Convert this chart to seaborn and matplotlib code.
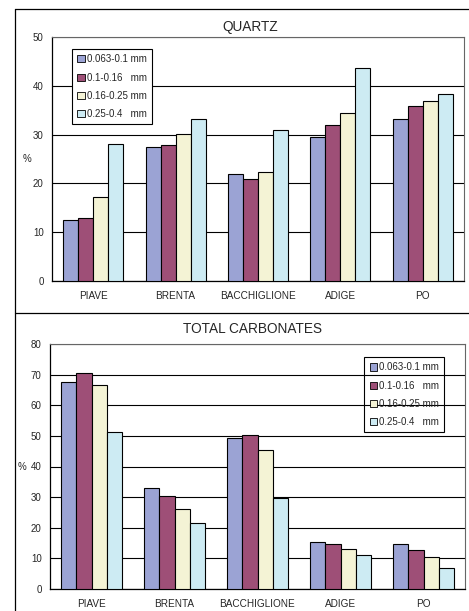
import pandas as pd
import matplotlib.pyplot as plt
import seaborn as sns
from matplotlib.lines import Line2D

# Data
rivers = ["PIAVE", "BRENTA", "BACCHIGLIONE", "ADIGE", "PO"]
sizes = ["0.063-0.1 mm", "0.1-0.16   mm", "0.16-0.25 mm", "0.25-0.4   mm"]

quartz_0063 = [12.6, 27.4, 21.9, 29.5, 33.1]
quartz_01 = [13.0, 27.8, 20.9, 32.0, 35.9]
quartz_016 = [17.3, 30.2, 22.4, 34.4, 36.8]
quartz_025 = [28.1, 33.2, 30.9, 43.6, 38.4]

carb_0063 = [67.6, 33.0, 49.3, 15.3, 14.8]
carb_01 = [70.6, 30.5, 50.4, 14.6, 12.8]
carb_016 = [66.6, 26.2, 45.5, 13.2, 10.6]
carb_025 = [51.3, 21.4, 29.7, 11.2, 7.0]

colors = ["#9BA3D4", "#9E4F77", "#F4F3D5", "#CDEBF3"]

sns.set_style("white")
plt.rcParams['font.family'] = ['Liberation Sans', 'DejaVu Sans']


def long_table(series):
    rows = []
    for size, vals in zip(sizes, series):
        for river, v in zip(rivers, vals):
            rows.append({"river": river, "size": size, "value": v})
    return pd.DataFrame(rows)


def draw_panel(ax, df, ymax, step, leg_anchor, leg_face, ylabel_x):
    sns.barplot(data=df, x="river", y="value", hue="size", palette=colors,
                saturation=1, width=0.73, edgecolor="black", linewidth=0.8,
                ax=ax, errorbar=None, zorder=3)
    ax.set_xlim(-0.5, 4.5)
    ax.set_ylim(0, ymax)
    ax.set_yticks(range(0, ymax + 1, step))
    ax.grid(axis="y", color="black", linewidth=0.8, zorder=0)
    ax.set_axisbelow(True)
    ax.set_xlabel("")
    ax.set_ylabel("%", rotation=0, fontsize=7, va="center", ha="center")
    ax.yaxis.set_label_coords(ylabel_x, 0.5)
    # category boundary ticks like the spreadsheet chart
    ax.set_xticks([-0.5, 0.5, 1.5, 2.5, 3.5, 4.5], minor=True)
    ax.tick_params(axis="x", which="major", length=0, labelsize=7.2, pad=7)
    ax.tick_params(axis="x", which="minor", length=3, direction="out", width=0.8)
    ax.tick_params(axis="y", length=3, direction="out", width=0.8, labelsize=7, pad=3)
    for side in ["left", "bottom"]:
        ax.spines[side].set_color("black")
        ax.spines[side].set_linewidth(0.9)
    for side in ["top", "right"]:
        ax.spines[side].set_color("#666666")
        ax.spines[side].set_linewidth(0.8)
    leg = ax.legend(loc="upper left", bbox_to_anchor=leg_anchor, borderaxespad=0,
                    fontsize=7, fancybox=False, edgecolor="black",
                    facecolor=leg_face, framealpha=1,
                    handlelength=0.75, handleheight=0.75,
                    handletextpad=0.2, labelspacing=0.85, borderpad=0.55)
    leg.get_frame().set_linewidth(0.8)
    leg.set_zorder(5)
    for h in leg.legend_handles:
        h.set_edgecolor("black")
        h.set_linewidth(0.6)


fig = plt.figure(figsize=(4.69, 6.11), dpi=100)

ax1 = fig.add_axes([52 / 469, 1 - 281 / 611, 412 / 469, 244 / 611])
draw_panel(ax1, long_table([quartz_0063, quartz_01, quartz_016, quartz_025]),
           50, 10, (0.0485, 0.951), "white", -0.06)

ax2 = fig.add_axes([50 / 469, 1 - 589 / 611, 415 / 469, 245 / 611])
draw_panel(ax2, long_table([carb_0063, carb_01, carb_016, carb_025]),
           80, 10, (0.757, 0.947), "none", -0.068)

fig.text(250 / 469, 1 - 27 / 611, "QUARTZ", ha="center", va="center", fontsize=9.8)
fig.text(252 / 469, 1 - 329 / 611, "TOTAL CARBONATES", ha="center", va="center", fontsize=9.8)

# outer frame lines
fig.add_artist(Line2D([15 / 469, 15 / 469], [0, 1 - 9 / 611], color="black", linewidth=0.9))
fig.add_artist(Line2D([15 / 469, 1], [1 - 9 / 611, 1 - 9 / 611], color="black", linewidth=0.9))
fig.add_artist(Line2D([15 / 469, 1], [1 - 313 / 611, 1 - 313 / 611], color="black", linewidth=0.9))

fig.savefig("out.png", dpi=100)
